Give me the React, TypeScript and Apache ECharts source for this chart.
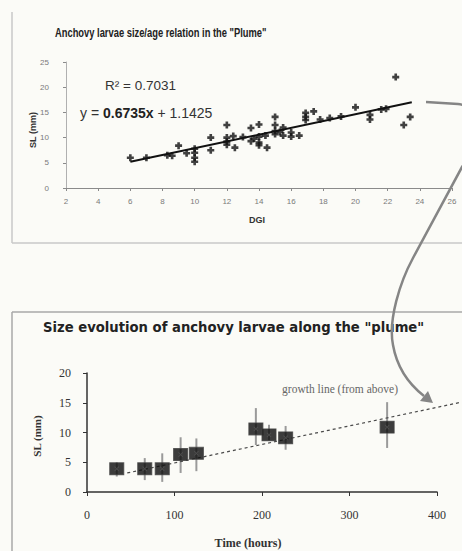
import React, { useEffect, useRef } from "react";
import * as echarts from "echarts";

// ---------- Top chart data (DGI vs SL) ----------
const dgiValues = [6.0, 7.0, 8.3, 8.6, 9.0, 9.5, 10.0, 10.0, 10.0, 10.0, 11.0, 11.0, 12.0, 12.0, 12.0, 12.0, 12.4, 12.5, 13.0, 13.5, 13.5, 13.7, 14.0, 14.0, 14.0, 14.0, 14.4, 14.5, 15.0, 15.0, 15.0, 15.0, 15.3, 15.5, 15.5, 16.0, 16.0, 16.5, 16.9, 16.9, 16.9, 17.4, 17.8, 18.4, 19.1, 20.0, 20.9, 20.9, 21.6, 21.9, 22.5, 23.0, 23.4];
const slValues = [6.0, 6.0, 6.5, 6.4, 8.4, 6.9, 7.8, 7.0, 6.0, 5.2, 10.0, 7.5, 12.5, 10.0, 9.2, 8.6, 10.3, 8.0, 10.1, 11.9, 9.3, 9.8, 12.6, 10.2, 9.0, 8.5, 10.4, 8.0, 14.1, 12.5, 11.3, 10.7, 11.1, 12.0, 10.4, 11.0, 10.2, 10.4, 14.9, 14.1, 13.5, 15.2, 13.6, 13.9, 14.2, 16.0, 14.5, 13.6, 15.6, 15.7, 22.0, 12.5, 14.1];
const trendDgi = [6.0, 23.5];
const trendSl = [5.2, 17.0];
const topXTicks = { min: 2, max: 26, step: 2 };
const topYTicks = { min: 0, max: 25, step: 5 };

// ---------- Bottom chart data (time vs SL) ----------
const timeHours = [34, 66, 86, 107, 125, 193, 208, 227, 343];
const meanSl = [3.9, 3.9, 3.9, 6.3, 6.5, 10.6, 9.6, 9.1, 10.9];
const lowSl = [2.6, 2.0, 1.7, 3.2, 3.5, 7.9, 8.7, 7.1, 7.4];
const highSl = [5.0, 5.7, 6.5, 9.2, 9.0, 14.1, 11.3, 11.1, 15.1];
const growthTimes = [46, 428];
const growthSl = [3.2, 15.1];
const bottomXTicks = { min: 0, max: 400, step: 100 };
const bottomYTicks = { min: 0, max: 20, step: 5 };

// ---------- Texts ----------
const topTitle = 'Anchovy larvae size/age relation in the "Plume"';
const bottomTitle = 'Size evolution of anchovy larvae along the "plume"';
const r2Text = "R² = 0.7031";
const eqA = "y = ";
const eqB = "0.6735x";
const eqC = " + 1.1425";
const growthNote = "growth line (from above)";

const SANS = "Liberation Sans, Arial, sans-serif";
const SERIF = "Liberation Serif, Times New Roman, serif";

const arrowD =
  "M 426 102 L 458 104 C 480 106 480 140 462 167 L 413 258 C 400 282 388 320 393 345 C 397 368 410 385 424 396";

export default function App() {
  const ref = useRef<HTMLDivElement>(null);

  useEffect(() => {
    if (!ref.current) return;
    try {
      echarts.graphic.registerShape("arrowCurve", echarts.graphic.extendPath(arrowD, {}) as any);
    } catch (e) {}
    const chart = echarts.init(ref.current, undefined, { renderer: "svg" });

    const topPoints = dgiValues.map((x, i) => [x, slValues[i]]);
    const trend = trendDgi.map((x, i) => [x, trendSl[i]]);
    const means = timeHours.map((t, i) => [t, meanSl[i]]);
    const errs = timeHours.map((t, i) => [t, lowSl[i], highSl[i]]);
    const growth = growthTimes.map((t, i) => [t, growthSl[i]]);

    const W = 462;
    const bLeft = 87;
    const bWidth = 350;
    const bTop = 373;
    const bHeight = 119;
    // hidden companion axis with the same px/hour scale, running to the right edge
    const extWidth = W - bLeft;
    const extMax = (bottomXTicks.max * extWidth) / bWidth;

    const option: any = {
      animation: false,
      backgroundColor: "#fbfbf7",
      grid: [
        { left: 66, top: 62, width: 386, height: 126 },
        { left: bLeft, top: bTop, width: bWidth, height: bHeight },
        { left: bLeft, top: bTop, width: extWidth, height: bHeight },
      ],
      xAxis: [
        {
          gridIndex: 0,
          type: "value",
          min: topXTicks.min,
          max: topXTicks.max,
          interval: topXTicks.step,
          splitLine: { show: false },
          axisLine: { show: true, lineStyle: { color: "#8a8a8a", width: 1 } },
          axisTick: { show: true, length: 3, lineStyle: { color: "#8a8a8a" } },
          axisLabel: { fontSize: 8, color: "#7a7a7a", margin: 9, fontFamily: SANS },
        },
        {
          gridIndex: 1,
          type: "value",
          min: bottomXTicks.min,
          max: bottomXTicks.max,
          interval: bottomXTicks.step,
          splitLine: { show: false },
          axisLine: { show: true, lineStyle: { color: "#333", width: 1.5 } },
          axisTick: { show: true, length: 4, lineStyle: { color: "#333" } },
          axisLabel: { fontSize: 12, color: "#333", margin: 17, fontFamily: SERIF },
        },
        {
          gridIndex: 2,
          type: "value",
          min: 0,
          max: extMax,
          show: false,
        },
      ],
      yAxis: [
        {
          gridIndex: 0,
          type: "value",
          min: topYTicks.min,
          max: topYTicks.max,
          interval: topYTicks.step,
          splitLine: { show: false },
          axisLine: { show: true, lineStyle: { color: "#b0b0b0", width: 1 } },
          axisTick: { show: true, length: 3, lineStyle: { color: "#8a8a8a" } },
          axisLabel: { fontSize: 8, color: "#7a7a7a", margin: 17, fontFamily: SANS },
        },
        {
          gridIndex: 1,
          type: "value",
          min: bottomYTicks.min,
          max: bottomYTicks.max,
          interval: bottomYTicks.step,
          splitLine: { show: false },
          axisLine: { show: true, lineStyle: { color: "#333", width: 1.5 } },
          axisTick: { show: true, length: 4, lineStyle: { color: "#333" } },
          axisLabel: { fontSize: 12, color: "#333", margin: 16, fontFamily: SERIF },
        },
        {
          gridIndex: 2,
          type: "value",
          min: bottomYTicks.min,
          max: bottomYTicks.max,
          show: false,
        },
      ],
      series: [
        {
          type: "line",
          xAxisIndex: 0,
          yAxisIndex: 0,
          data: trend,
          symbol: "none",
          lineStyle: { color: "#111", width: 2 },
          z: 2,
        },
        {
          type: "scatter",
          xAxisIndex: 0,
          yAxisIndex: 0,
          data: topPoints,
          symbol: "path://M2.5,0H5.5V2.5H8V5.5H5.5V8H2.5V5.5H0V2.5H2.5Z",
          symbolSize: 7,
          itemStyle: { color: "#111" },
          z: 3,
        },
        {
          type: "custom",
          xAxisIndex: 1,
          yAxisIndex: 1,
          data: errs,
          encode: { x: 0, y: [1, 2] },
          renderItem: (params: any, api: any) => {
            const p1 = api.coord([api.value(0), api.value(1)]);
            const p2 = api.coord([api.value(0), api.value(2)]);
            return {
              type: "line",
              shape: { x1: p1[0], y1: p1[1], x2: p2[0], y2: p2[1] },
              style: { stroke: "#9a9a9a", lineWidth: 2 },
            };
          },
          z: 2,
        },
        {
          type: "line",
          xAxisIndex: 2,
          yAxisIndex: 2,
          data: growth,
          symbol: "none",
          lineStyle: { color: "#4a4a4a", width: 1.2, type: [3, 3] },
          z: 3,
        },
        {
          type: "scatter",
          xAxisIndex: 1,
          yAxisIndex: 1,
          data: means,
          symbol: "rect",
          symbolSize: [14, 12],
          itemStyle: { color: "#0d0d0d", borderColor: "#444", borderWidth: 1 },
          z: 4,
        },
        {
          type: "scatter",
          xAxisIndex: 1,
          yAxisIndex: 1,
          data: means,
          symbol: "path://M0,1L1,0L4,3L7,0L8,1L5,4L8,7L7,8L4,5L1,8L0,7L3,4Z",
          symbolSize: 5,
          itemStyle: { color: "#555" },
          z: 5,
        },
      ],
      graphic: [
        // frames
        { type: "line", shape: { x1: 12, y1: 12, x2: 12, y2: 243 }, style: { stroke: "#c8c8c8", lineWidth: 1.5 } },
        { type: "line", shape: { x1: 12, y1: 243, x2: 462, y2: 243 }, style: { stroke: "#c8c8c8", lineWidth: 1.5 } },
        { type: "line", shape: { x1: 12, y1: 312, x2: 462, y2: 312 }, style: { stroke: "#a8a8a8", lineWidth: 1.5 } },
        { type: "line", shape: { x1: 12, y1: 312, x2: 12, y2: 551 }, style: { stroke: "#a8a8a8", lineWidth: 1.5 } },
        // top titles & annotations
        {
          type: "text",
          x: 55,
          y: 32,
          scaleX: 0.72,
          style: { text: topTitle, fontSize: 13, fontWeight: "bold", fontFamily: SANS, fill: "#222", textAlign: "left", textVerticalAlign: "middle" },
        },
        {
          type: "text",
          x: 105,
          y: 85,
          style: { text: r2Text, fontSize: 13.5, fontFamily: SANS, fill: "#333", textAlign: "left", textVerticalAlign: "middle" },
        },
        {
          type: "text",
          x: 80,
          y: 113,
          style: {
            text: `{n|${eqA}}{b|${eqB}}{n|${eqC}}`,
            textAlign: "left",
            textVerticalAlign: "middle",
            rich: {
              n: { fontSize: 14, fontFamily: SANS, fill: "#333" },
              b: { fontSize: 14, fontFamily: SANS, fontWeight: "bold", fill: "#222" },
            },
          },
        },
        {
          type: "text",
          x: 33,
          y: 130,
          rotation: Math.PI / 2,
          style: { text: "SL (mm)", fontSize: 9, fontWeight: "bold", fontFamily: SANS, fill: "#333", textAlign: "center", textVerticalAlign: "middle" },
        },
        {
          type: "text",
          x: 257,
          y: 220,
          style: { text: "DGI", fontSize: 9, fontWeight: "bold", fontFamily: SANS, fill: "#333", textAlign: "center", textVerticalAlign: "middle" },
        },
        // bottom titles & annotations
        {
          type: "text",
          x: 43,
          y: 327,
          style: { text: bottomTitle, fontSize: 13.2, fontWeight: "bold", fontFamily: "DejaVu Sans, sans-serif", fill: "#222", textAlign: "left", textVerticalAlign: "middle" },
        },
        {
          type: "text",
          x: 37,
          y: 436,
          rotation: Math.PI / 2,
          style: { text: "SL (mm)", fontSize: 11, fontWeight: "bold", fontFamily: SERIF, fill: "#333", textAlign: "center", textVerticalAlign: "middle" },
        },
        {
          type: "text",
          x: 248,
          y: 543,
          style: { text: "Time (hours)", fontSize: 12, fontWeight: "bold", fontFamily: SERIF, fill: "#333", textAlign: "center", textVerticalAlign: "middle" },
        },
        {
          type: "text",
          x: 340,
          y: 389,
          style: { text: growthNote, fontSize: 11.5, fontFamily: SERIF, fill: "#666", textAlign: "center", textVerticalAlign: "middle" },
        },
        // connecting arrow
        {
          type: "arrowCurve",
          x: 0,
          y: 0,
          style: { fill: "none", stroke: "#858585", lineWidth: 2.5 },
          z: 10,
        },
        {
          type: "polygon",
          shape: { points: [[433, 403], [420, 401], [428, 391]] },
          style: { fill: "#858585" },
          z: 10,
        },
      ],
    };

    chart.setOption(option);
    return () => chart.dispose();
  }, []);

  return (
    <div
      ref={ref}
      style={{ position: "fixed", left: 0, top: 0, width: 462, height: 551 }}
    />
  );
}
